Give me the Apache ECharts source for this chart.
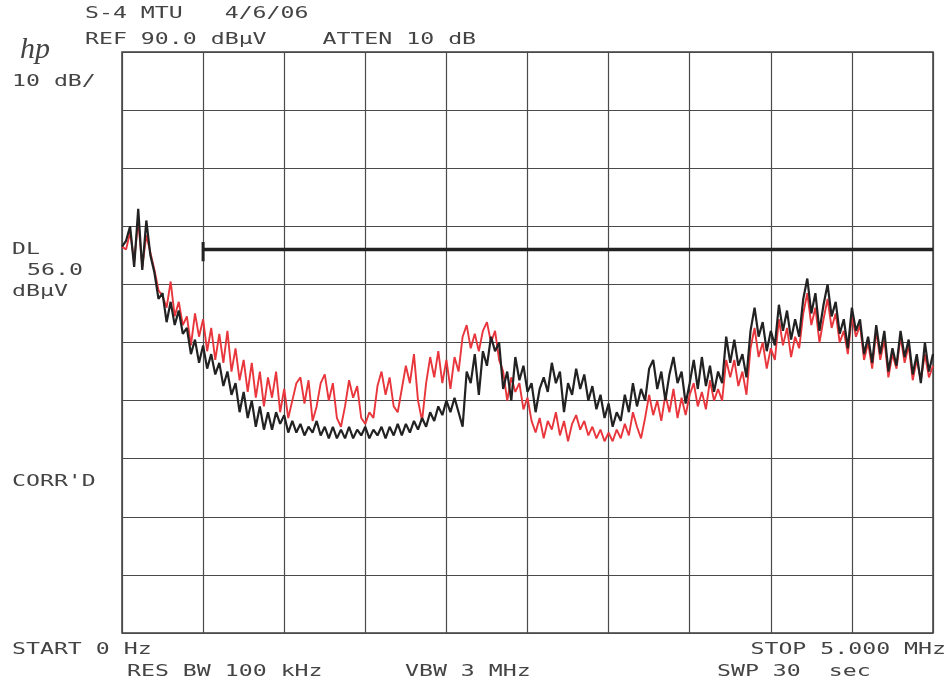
<!DOCTYPE html>
<html>
<head>
<meta charset="utf-8">
<style>
  html, body { margin: 0; padding: 0; background: #ffffff; }
  #chart { width: 951px; height: 686px; }
</style>
<script src="https://cdn.jsdelivr.net/npm/echarts@6/dist/echarts.min.js"></script>
</head>
<body>
<div id="chart"></div>
<script>
// sweep: 0 .. 5 MHz, 201 points
const freqStart = 0;
const freqStop = 5;
const refLevel = 90;
const dbPerDiv = 10;
const dlLevel = 56.0;
const dlStart = 0.5;

// black trace (dBuV)
const blackTrace = [
  56.5, 57.5, 60, 53, 63, 52.5, 61, 55, 52, 47.5,
  48.5, 43.5, 47, 43, 45.5, 41.5, 42.5, 38, 40.5, 36.5,
  39.5, 35.5, 38, 34.5, 36.5, 32.5, 35, 31, 33, 28,
  31.5, 27, 30, 25.5, 29, 25, 28, 25, 28, 26,
  27.5, 24.5, 26.5, 24.5, 26, 24, 25.5, 24.5, 26.5, 24,
  25.5, 23.5, 25.5, 23.5, 25, 23.5, 25.5, 23.5, 25, 24,
  25.5, 23.5, 25, 24, 25.5, 23.5, 25.5, 24, 26, 24,
  26, 24.5, 26.5, 25, 27, 25.5, 28, 26.5, 29, 27.5,
  30, 28, 30.5, 28, 25.5, 35, 33, 38, 31, 38.5,
  36, 41, 38.5, 40, 32, 35, 30, 37.5, 33.5, 36,
  31.5, 33, 28, 32, 34, 31.5, 36.5, 33, 35, 28,
  33, 31, 35.5, 32, 34.5, 30, 32.5, 28.5, 31, 27,
  29.5, 25.5, 28, 26.5, 31, 28, 33, 29, 32, 30,
  35.5, 37, 32, 35, 30, 34.5, 37.5, 33, 35, 29.5,
  33, 37, 32, 37.5, 32.5, 36, 31.5, 35, 33, 41,
  36.5, 40.5, 36, 38, 34, 42, 46, 41, 43.5, 38.5,
  42, 39.5, 46.5, 42, 45.5, 40.5, 44, 41, 47.5, 51,
  45, 48.5, 42, 46.5, 50, 44.5, 47, 41.5, 44, 39,
  46, 42, 44, 38, 41, 36.5, 43, 38, 42, 35,
  39, 36, 42, 37.5, 40.5, 34.5, 38, 33, 40, 35,
  38
];

// red trace (dBuV)
const redTrace = [
  56.5, 56, 59, 54, 61, 53, 58.5, 55.5, 52.5, 49,
  48, 46, 50.5, 44.5, 47, 43, 44.5, 39.5, 45, 41,
  44, 38.5, 42.5, 37, 41.5, 36.5, 42, 35, 39, 33.5,
  37, 31.5, 36.5, 30.5, 35, 29, 34, 30.5, 35, 28,
  32, 27, 30, 33, 34, 29.5, 33.5, 26.5, 29, 33,
  34.5, 30, 33, 27, 25.5, 29, 33.5, 30.5, 32.5, 27,
  26, 28, 27, 32.5, 35, 31, 34, 29, 28, 32,
  36, 33, 38, 30, 26.5, 33, 37.5, 34, 38.5, 33,
  37, 32, 37.5, 35, 41, 43, 39, 41.5, 38.5, 42,
  43.5, 40, 42, 37, 35, 30, 34, 31.5, 33, 28.5,
  30.5, 26.5, 24.5, 27, 23.5, 26.5, 25, 28, 24, 26.5,
  23, 26, 27.5, 25, 26.5, 24, 25.5, 23.5, 25, 23,
  24.5, 23, 25, 23.5, 26, 24, 28, 25.5, 23.5, 27,
  31, 27.5, 30, 26.5, 31, 28, 32, 27, 30.5, 27.5,
  31, 33, 29, 31.5, 28.5, 33.5, 30, 32, 30, 37,
  34, 37, 32.5, 35, 31, 39, 42.5, 37.5, 40, 35.5,
  39, 37, 44, 39.5, 42.5, 37.5, 41, 39, 45, 48.5,
  43, 46, 40, 44, 47.5, 42.5, 45, 40, 42, 38,
  44.5, 41, 43, 37, 40, 35.5, 42, 37, 40.5, 34,
  38, 35.5, 41, 36.5, 39.5, 33.5, 37, 33.5, 38, 34,
  36
];

// annotation texts
const headerLine1 = "S-4 MTU   4/6/06";
const headerLine2 = "REF 90.0 dBµV    ATTEN 10 dB";
const scaleLabel = "10 dB/";
const dlLabels = ["DL", "56.0", "dBµV"];
const corrLabel = "CORR'D";
const startLabel = "START 0 Hz";
const stopLabel = "STOP 5.000 MHz";
const footerLabels = ["RES BW 100 kHz", "VBW 3 MHz", "SWP 30  sec"];

const toPoints = (trace) => {
  const step = (freqStop - freqStart) / (trace.length - 1);
  return trace.map((v, i) => [freqStart + i * step, v]);
};

const myChart = echarts.init(document.getElementById("chart"));

const FONT = '"DejaVu Sans Mono", monospace';
const TXT = "#444444";
// plotter lettering is wide: stretch the mono font horizontally
const label = (text, x, y, align) => ({
  type: "text",
  x: x,
  y: y,
  scaleX: 1.45,
  silent: true,
  style: {
    text: text,
    fontFamily: FONT,
    fontSize: 16,
    fill: TXT,
    textAlign: align || "left",
    textVerticalAlign: "middle",
  },
});

const options = {
  backgroundColor: "#ffffff",
  animation: false,
  grid: {
    left: 122,
    top: 52,
    width: 811,
    height: 581,
    show: true,
    borderColor: "#3c3c3c",
    borderWidth: 1.5,
    backgroundColor: "transparent",
  },
  xAxis: {
    type: "value",
    min: freqStart,
    max: freqStop,
    interval: 0.5,
    axisLine: { show: false },
    axisTick: { show: false },
    axisLabel: { show: false },
    splitLine: { show: true, lineStyle: { color: "#4a4a4a", width: 1.2 } },
  },
  yAxis: {
    type: "value",
    min: refLevel - 10 * dbPerDiv,
    max: refLevel,
    interval: dbPerDiv,
    axisLine: { show: false },
    axisTick: { show: false },
    axisLabel: { show: false },
    splitLine: { show: true, lineStyle: { color: "#4a4a4a", width: 1.2 } },
  },
  series: [
    {
      name: "red",
      type: "line",
      data: toPoints(redTrace),
      symbol: "none",
      lineStyle: { color: "#e8363c", width: 1.9 },
      z: 3,
    },
    {
      name: "black",
      type: "line",
      data: toPoints(blackTrace),
      symbol: "none",
      lineStyle: { color: "#222222", width: 2.2 },
      z: 4,
    },
    {
      // display line
      name: "DL",
      type: "line",
      data: [
        [dlStart, dlLevel],
        [freqStop, dlLevel],
      ],
      symbol: "none",
      lineStyle: { color: "#222222", width: 3.5 },
      z: 5,
    },
    {
      name: "DL start",
      type: "line",
      data: [
        [dlStart, dlLevel + 1.3],
        [dlStart, dlLevel - 2],
      ],
      symbol: "none",
      lineStyle: { color: "#222222", width: 3 },
      z: 5,
    },
  ],
  graphic: [
    {
      type: "text",
      x: 20,
      y: 50,
      silent: true,
      style: {
        text: "hp",
        fontFamily: '"Liberation Serif", serif',
        fontStyle: "italic",
        fontSize: 30,
        fill: TXT,
        textVerticalAlign: "middle",
      },
    },
    label(headerLine1, 85, 14),
    label(headerLine2, 85, 40),
    label(scaleLabel, 12, 82),
    label(dlLabels[0], 12, 250),
    label(dlLabels[1], 27, 271),
    label(dlLabels[2], 12, 292),
    label(corrLabel, 12, 482),
    label(startLabel, 12, 650),
    label(stopLabel, 946, 650, "right"),
    label(footerLabels[0], 127, 672),
    label(footerLabels[1], 405, 672),
    label(footerLabels[2], 717, 672),
  ],
};

myChart.setOption(options);
</script>
</body>
</html>
